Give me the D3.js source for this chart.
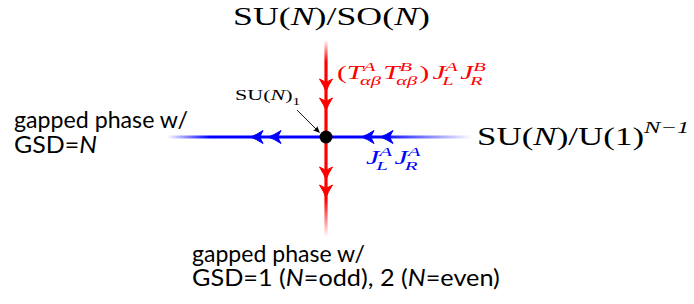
<!DOCTYPE html>
<html><head><meta charset="utf-8">
<script src="https://cdn.jsdelivr.net/npm/d3@7"></script>
<style>body{margin:0;background:#fff}svg{display:block}</style>
</head><body>
<svg id="c" width="694" height="304"></svg>
<script>
// ---- data (coupling-space coordinates, fixed point at origin) ----
const hFlowExtent = [-1.0, 0.92];          // J_L^A J_R^A axis
const vFlowExtent = [-1.0, 0.97];          // (T T) J J axis
const hArrowTips = [-0.465, -0.352, 0.233, 0.352];   // flow toward left
const vArrowTips = [0.47, 0.28, -0.41, -0.59];       // flow downward
const fixedPoint = [0, 0];
const leftPhaseLines = ["gapped phase w/", "GSD=|N"];
const bottomPhaseLines = ["gapped phase w/", "GSD=1 (|N=odd), 2 (|N=even)"];

const svg = d3.select("#c");
const x = d3.scaleLinear().domain([-1, 1]).range([167, 485]);
const y = d3.scaleLinear().domain([-1, 1]).range([237, 37]);
const RED = "#ff0000", BLUE = "#0000ff";
const serif = "'Liberation Serif','Times New Roman',serif";
const sans = "Lato,'Open Sans',sans-serif";

const defs = svg.append("defs");
function grad(id, color, x1, y1, x2, y2, a, b) {
  const g = defs.append("linearGradient").attr("id", id).attr("gradientUnits", "userSpaceOnUse")
    .attr("x1", x1).attr("y1", y1).attr("x2", x2).attr("y2", y2);
  [[0, 0], [a, 1], [b, 1], [1, 0]].forEach(([o, op]) =>
    g.append("stop").attr("offset", o).attr("stop-color", color).attr("stop-opacity", op));
}
grad("gh", BLUE, x(hFlowExtent[0]), 0, x(hFlowExtent[1]), 0, 0.14, 0.70);
grad("gv", RED, 0, y(vFlowExtent[1]), 0, y(vFlowExtent[0]), 0.11, 0.81);

// lines
svg.append("line").attr("x1", x(hFlowExtent[0])).attr("x2", x(hFlowExtent[1]))
  .attr("y1", y(0)).attr("y2", y(0)).attr("stroke", "url(#gh)").attr("stroke-width", 3.2);
svg.append("line").attr("x1", x(0)).attr("x2", x(0))
  .attr("y1", y(vFlowExtent[1])).attr("y2", y(vFlowExtent[0])).attr("stroke", "url(#gv)").attr("stroke-width", 3.2);

// arrowheads (stealth-like), drawn pointing +x then rotated
const head = "M1.5,0 Q-4,-2 -11,-6.5 Q-8.5,-2 -8,0 Q-8.5,2 -11,6.5 Q-4,2 1.5,0 Z";
svg.selectAll(".ha").data(hArrowTips).join("path").attr("class", "ha").attr("d", head).attr("fill", BLUE)
  .attr("stroke", BLUE).attr("stroke-width", 1).attr("stroke-linejoin", "round")
  .attr("transform", d => `translate(${x(d)},${y(0)}) rotate(180)`);
svg.selectAll(".va").data(vArrowTips).join("path").attr("class", "va").attr("d", head).attr("fill", RED)
  .attr("stroke", RED).attr("stroke-width", 1).attr("stroke-linejoin", "round")
  .attr("transform", d => `translate(${x(0)},${y(d)}) rotate(90)`);

// fixed point
svg.append("circle").attr("cx", x(fixedPoint[0])).attr("cy", y(fixedPoint[1])).attr("r", 6.5).attr("fill", "#000");

// annotation arrow to SU(N)_1
svg.append("line").attr("x1", 297).attr("y1", 110).attr("x2", 317).attr("y2", 130).attr("stroke", "#000").attr("stroke-width", 0.9);
svg.append("path").attr("d", "M0,0 L-7,-3 Q-5,0 -7,3 Z").attr("fill", "#000")
  .attr("transform", "translate(320,133) rotate(45)");

// ---- math text layout helper ----
function mathText(tx, ty, size, color, tokens, targetW) {
  const g = svg.append("g");
  let cx = 0;
  tokens.forEach(tk => {
    const t = g.append("text").attr("x", cx).attr("y", 0).attr("font-family", serif).attr("font-size", size)
      .attr("fill", color).attr("font-style", tk.it ? "italic" : "normal").text(tk.s);
    cx += t.node().getComputedTextLength() + (tk.pad || 0);
    if (tk.sup || tk.sub) {
      let w = 0;
      if (tk.sup) {
        const s = g.append("text").attr("x", cx).attr("y", -size * (tk.sub ? 0.42 : 0.48)).attr("font-family", serif)
          .attr("font-size", size * 0.7).attr("fill", color).attr("font-style", tk.supIt === false ? "normal" : "italic").text(tk.sup);
        w = Math.max(w, s.node().getComputedTextLength());
      }
      if (tk.sub) {
        const s = g.append("text").attr("x", cx - (tk.subShift || 0)).attr("y", size * 0.3).attr("font-family", serif)
          .attr("font-size", size * 0.7).attr("fill", color).attr("font-style", tk.subIt === false ? "normal" : "italic").text(tk.sub);
        w = Math.max(w, s.node().getComputedTextLength() - (tk.subShift || 0));
      }
      cx += w + size * 0.08;
    }
  });
  const sx = targetW ? targetW / cx : 1;
  g.attr("transform", `translate(${tx},${ty}) scale(${sx},1)`);
  return g;
}

const R = s => ({s, it: false}), I = s => ({s, it: true});
// top: SU(N)/SO(N)
mathText(233, 25, 25, "#000", [R("SU("), I("N"), R(")/SO("), I("N"), R(")")], 197);
// right: SU(N)/U(1)^{N-1}
mathText(477, 145, 25, "#000", [R("SU("), I("N"), R(")/U(1"), {s: ")", it: false, sup: "N\u22121"}], 215);
// red coupling label
mathText(337, 79, 19, RED, [R("("), {s: "T", it: true, sup: "A", sub: "\u03b1\u03b2", subShift: 2},
  {s: "T", it: true, sup: "B", sub: "\u03b1\u03b2", subShift: 2}, {s: ")", it: false, pad: 2},
  {s: "J", it: true, sup: "A", sub: "L", subShift: 2}, {s: "J", it: true, sup: "B", sub: "R", subShift: 2}], 151);
// blue coupling label
mathText(366, 164, 19, BLUE, [{s: "J", it: true, sup: "A", sub: "L", subShift: 2}, {s: "J", it: true, sup: "A", sub: "R", subShift: 2}], 57);
// SU(N)_1
mathText(235, 100, 15, "#000", [R("SU("), I("N"), {s: ")", it: false, sub: "1", subIt: false}], 67);

// ---- phase labels (sans), each line fitted to the reference width ----
function sansLines(tx, ty, lh, lines, widths) {
  lines.forEach((ln, i) => {
    const t = svg.append("text").attr("x", 0).attr("y", 0).attr("font-family", sans)
      .attr("font-size", 24).attr("fill", "#000");
    const parts = ln.split("|");   // '|' marks an italic N following it
    parts.forEach((p, j) => {
      if (j === 0) { t.append("tspan").text(p); return; }
      t.append("tspan").attr("font-style", "italic").text(p[0]);
      if (p.length > 1) t.append("tspan").text(p.slice(1));
    });
    const w = t.node().getComputedTextLength();
    t.attr("transform", `translate(${tx},${ty + i * lh}) scale(${widths[i] / w},1)`);
  });
}
sansLines(14, 128, 25, leftPhaseLines, [174, 83]);
sansLines(192, 262, 24, bottomPhaseLines, [173, 308]);
</script>
</body></html>
